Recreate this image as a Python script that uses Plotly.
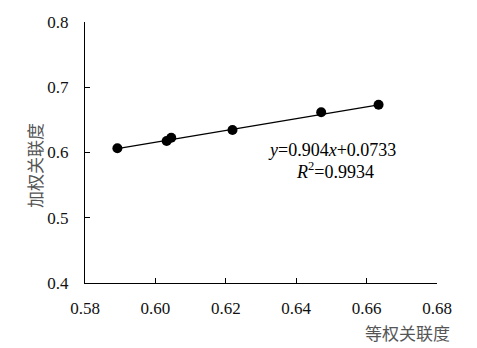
import plotly.graph_objects as go

# Data
equal_weight = [0.5892, 0.6032, 0.6045, 0.6219, 0.6471, 0.6634]
weighted = [0.6064, 0.6176, 0.6227, 0.6345, 0.6616, 0.6733]
slope = 0.904
intercept = 0.0733
r2 = 0.9934
x_ticks = [0.58, 0.60, 0.62, 0.64, 0.66, 0.68]
x_tick_labels = ["0.58", "0.60", "0.62", "0.64", "0.66", "0.68"]
y_ticks = [0.4, 0.5, 0.6, 0.7, 0.8]
y_tick_labels = ["0.4", "0.5", "0.6", "0.7", "0.8"]

x0, x1 = min(equal_weight), max(equal_weight)
trend_x = [x0, x1]
trend_y = [slope * v + intercept for v in trend_x]

fig = go.Figure()
fig.add_trace(go.Scatter(x=trend_x, y=trend_y, mode="lines",
                         line=dict(color="black", width=1.3), hoverinfo="skip"))
fig.add_trace(go.Scatter(x=equal_weight, y=weighted, mode="markers",
                         marker=dict(color="black", size=10)))

serif = "'Liberation Serif', 'Times New Roman', serif"
cjk = "Noto Sans CJK SC"

# page body has an 8px default margin, so the figure is a bit smaller
fig.update_layout(
    width=469, height=340,
    margin=dict(l=77, r=40, t=14, b=65, autoexpand=False),
    paper_bgcolor="white", plot_bgcolor="white",
    showlegend=False,
    font=dict(family=serif, size=18, color="black"),
    xaxis=dict(range=[0.58, 0.68], tickvals=x_ticks, ticktext=x_tick_labels,
               showline=True, linecolor="black", linewidth=1.2,
               ticks="inside", ticklen=5, tickcolor="black", tickwidth=1,
               showgrid=False, zeroline=False, ticklabelstandoff=9,
               automargin=False, tickfont=dict(family=serif, size=17, color="#111111")),
    yaxis=dict(range=[0.4, 0.8], tickvals=y_ticks, ticktext=y_tick_labels,
               showline=True, linecolor="black", linewidth=1.2,
               ticks="inside", ticklen=5, tickcolor="black", tickwidth=1,
               showgrid=False, zeroline=False, ticklabelstandoff=12,
               automargin=False, tickfont=dict(family=serif, size=17, color="#111111")),
    annotations=[
        dict(text="等权关联度", xref="paper", yref="paper", x=1.043, y=-0.19,
             xanchor="right", yanchor="middle", showarrow=False,
             font=dict(family=cjk, size=17, color="#555555")),
        dict(text="加权关联度", xref="paper", yref="paper", x=-0.145, y=0.452,
             xanchor="center", yanchor="middle", showarrow=False, textangle=-90,
             font=dict(family=cjk, size=17, color="#555555")),
        dict(text="<i>y</i>=0.904<i>x</i>+0.0733",
             xref="x", yref="y", x=0.6503, y=0.6038, xanchor="center",
             yanchor="middle", showarrow=False, font=dict(family=serif, size=18)),
        dict(text="<i>R</i><sup>2</sup>=%.4f" % r2,
             xref="x", yref="y", x=0.6511, y=0.5717, xanchor="center",
             yanchor="middle", showarrow=False, font=dict(family=serif, size=18)),
    ],
)
fig.write_html("out.html")
